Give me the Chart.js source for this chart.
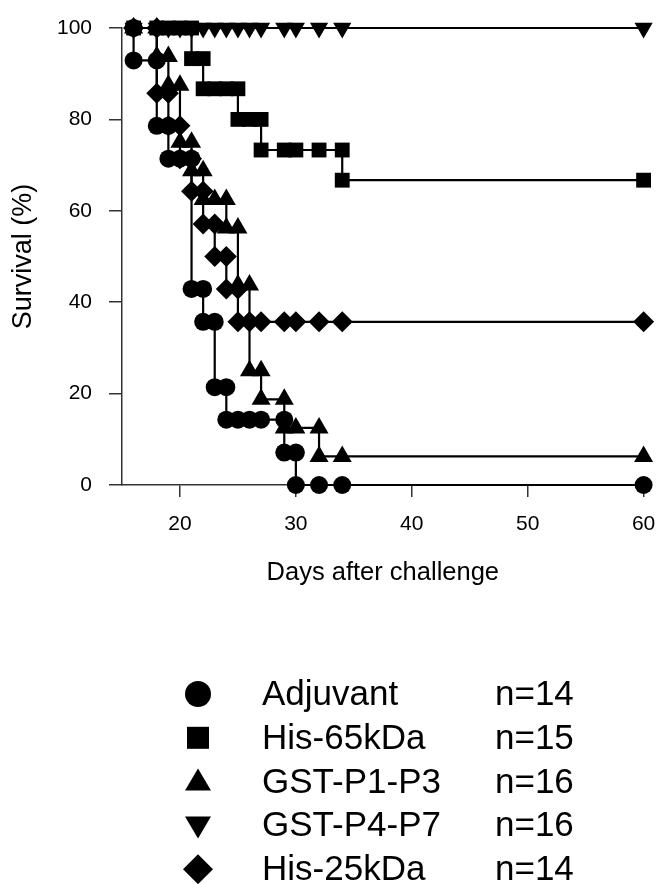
<!DOCTYPE html>
<html><head><meta charset="utf-8">
<script src="https://cdn.jsdelivr.net/npm/chart.js@4.4.1/dist/chart.umd.min.js"></script>
<style>
html,body{margin:0;padding:0;background:#fff;}
#wrap{position:relative;width:657px;height:884px;overflow:hidden;}
#c{position:absolute;left:0;top:0;}
#legend{position:absolute;left:0;top:0;}
</style></head><body>
<div id="wrap"><canvas id="c" width="657" height="884"></canvas><svg id="legend" width="657" height="884" xmlns="http://www.w3.org/2000/svg"></svg></div>
<script>
// ---- data ----
const groupNames = ["Adjuvant", "His-65kDa", "GST-P1-P3", "GST-P4-P7", "His-25kDa"];
const groupN = ["n=14", "n=15", "n=16", "n=16", "n=14"];

const adjuvantDays = [16,16,18,18,19,19,20,21,21,22,22,23,23,24,24,25,26,27,29,29,30,30,32,34,60];
const adjuvantSurv = [100,92.9,92.9,78.6,78.6,71.4,71.4,71.4,42.9,42.9,35.7,35.7,21.4,21.4,14.3,14.3,14.3,14.3,14.3,7.1,7.1,0,0,0,0];

const his65Days = [16,18,19,20,21,21,22,22,23,24,25,25,26,27,27,29,30,32,34,34,60];
const his65Surv = [100,100,100,100,100,93.3,93.3,86.7,86.7,86.7,86.7,80,80,80,73.3,73.3,73.3,73.3,73.3,66.7,66.7];

const gstP1P3Days = [16,18,18,19,19,20,20,21,21,22,22,23,24,24,25,25,26,26,27,27,29,29,30,32,32,34,60];
const gstP1P3Surv = [100,100,93.75,93.75,87.5,87.5,75,75,68.75,68.75,62.5,62.5,62.5,56.25,56.25,43.75,43.75,25,25,18.75,18.75,12.5,12.5,12.5,6.25,6.25,6.25];

const gstP4P7Days = [16,18,19,20,21,22,23,24,25,26,27,29,30,32,34,60];
const gstP4P7Surv = [100,100,100,100,100,100,100,100,100,100,100,100,100,100,100,100];

const his25Days = [16,18,18,19,19,20,20,21,21,22,22,23,23,24,24,25,25,26,27,29,30,32,34,60];
const his25Surv = [100,100,85.7,85.7,78.6,78.6,71.4,71.4,64.3,64.3,57.1,57.1,50,50,42.9,42.9,35.7,35.7,35.7,35.7,35.7,35.7,35.7,35.7];

const xTicks = [20,30,40,50,60];
const yTicks = [0,20,40,60,80,100];
const xTitle = "Days after challenge";
const yTitle = "Survival (%)";

// ---- styling ----
const FONT = "'Liberation Sans', Arial, Helvetica, sans-serif";
const AXIS = '#333';
const styles = [
  {pointStyle:'circle', pointRadius:9, rot:0},
  {pointStyle:'rect', pointRadius:10.5, rot:0},
  {pointStyle:'triangle', pointRadius:11, rot:0},
  {pointStyle:'triangle', pointRadius:10.5, rot:180},
  {pointStyle:'rectRot', pointRadius:10.5, rot:0}
];
const series = [
  [adjuvantDays, adjuvantSurv],
  [his65Days, his65Surv],
  [gstP1P3Days, gstP1P3Surv],
  [gstP4P7Days, gstP4P7Surv],
  [his25Days, his25Surv]
];

const datasets = series.map((s, k) => ({
  label: groupNames[k],
  data: s[0].map((d, i) => ({x: d, y: s[1][i]})),
  showLine: true,
  borderColor: '#000',
  backgroundColor: '#000',
  borderWidth: 2.2,
  pointStyle: styles[k].pointStyle,
  pointRadius: styles[k].pointRadius,
  pointRotation: styles[k].rot,
  pointBorderWidth: 0,
  pointBackgroundColor: '#000',
  tension: 0,
  clip: false
}));

new Chart(document.getElementById('c'), {
  type: 'scatter',
  data: {datasets},
  options: {
    responsive: false,
    animation: false,
    devicePixelRatio: 1,
    layout: {padding: {left: 0, right: 13.4, top: 28, bottom: 289}},
    plugins: {legend: {display: false}, tooltip: {enabled: false}},
    scales: {
      x: {
        type: 'linear', min: 15, max: 60,
        afterBuildTicks: s => { s.ticks = xTicks.map(v => ({value: v})); },
        afterFit: s => { s.height = 110; s.paddingLeft = 0; s.paddingRight = 0; },
        ticks: {font: {family: FONT, size: 21}, color: '#000', padding: 15, maxRotation: 0},
        grid: {drawOnChartArea: false, drawTicks: true, tickLength: 12, color: AXIS, lineWidth: 1.5},
        border: {display: true, color: AXIS, width: 1.5},
        title: {display: true, text: xTitle, color: '#000', font: {family: FONT, size: 25.5}, padding: {top: 0, bottom: 7}}
      },
      y: {
        type: 'linear', min: 0, max: 100,
        afterBuildTicks: s => { s.ticks = yTicks.map(v => ({value: v})); },
        afterFit: s => { s.width = 122; s.paddingTop = 0; s.paddingBottom = 0; },
        ticks: {font: {family: FONT, size: 21}, color: '#000', padding: 17},
        grid: {drawOnChartArea: false, drawTicks: true, tickLength: 13, color: AXIS, lineWidth: 1.5},
        border: {display: true, color: AXIS, width: 1.5},
        title: {display: true, text: yTitle, color: '#000', font: {family: FONT, size: 27}, padding: {top: 7, bottom: 0}}
      }
    }
  }
});

// ---- legend (SVG, real text) ----
const svg = document.getElementById('legend');
const NS = 'http://www.w3.org/2000/svg';
const symX = 198, nameX = 262, nX = 495, firstBase = 705, step = 43.8;
function el(tag, attrs, text) {
  const e = document.createElementNS(NS, tag);
  for (const k in attrs) e.setAttribute(k, attrs[k]);
  if (text) e.textContent = text;
  svg.appendChild(e);
  return e;
}
groupNames.forEach((name, i) => {
  const base = firstBase + i * step;
  const cy = base - 11;
  const st = styles[i];
  if (st.pointStyle === 'circle') {
    el('circle', {cx: symX, cy: cy, r: 13, fill: '#000'});
  } else if (st.pointStyle === 'rect') {
    el('rect', {x: symX - 11, y: cy - 11, width: 22, height: 22, fill: '#000'});
  } else if (st.pointStyle === 'triangle' && st.rot === 0) {
    el('polygon', {points: `${symX},${cy-13} ${symX+13},${cy+9} ${symX-13},${cy+9}`, fill: '#000'});
  } else if (st.pointStyle === 'triangle') {
    el('polygon', {points: `${symX-13},${cy-9} ${symX+13},${cy-9} ${symX},${cy+13}`, fill: '#000'});
  } else {
    el('polygon', {points: `${symX},${cy-15} ${symX+15},${cy} ${symX},${cy+15} ${symX-15},${cy}`, fill: '#000'});
  }
  el('text', {x: nameX, y: base, 'font-family': "Liberation Sans, Arial, Helvetica, sans-serif", 'font-size': 35, fill: '#000'}, name);
  el('text', {x: nX, y: base, 'font-family': "Liberation Sans, Arial, Helvetica, sans-serif", 'font-size': 35, fill: '#000'}, groupN[i]);
});
</script>
</body></html>
